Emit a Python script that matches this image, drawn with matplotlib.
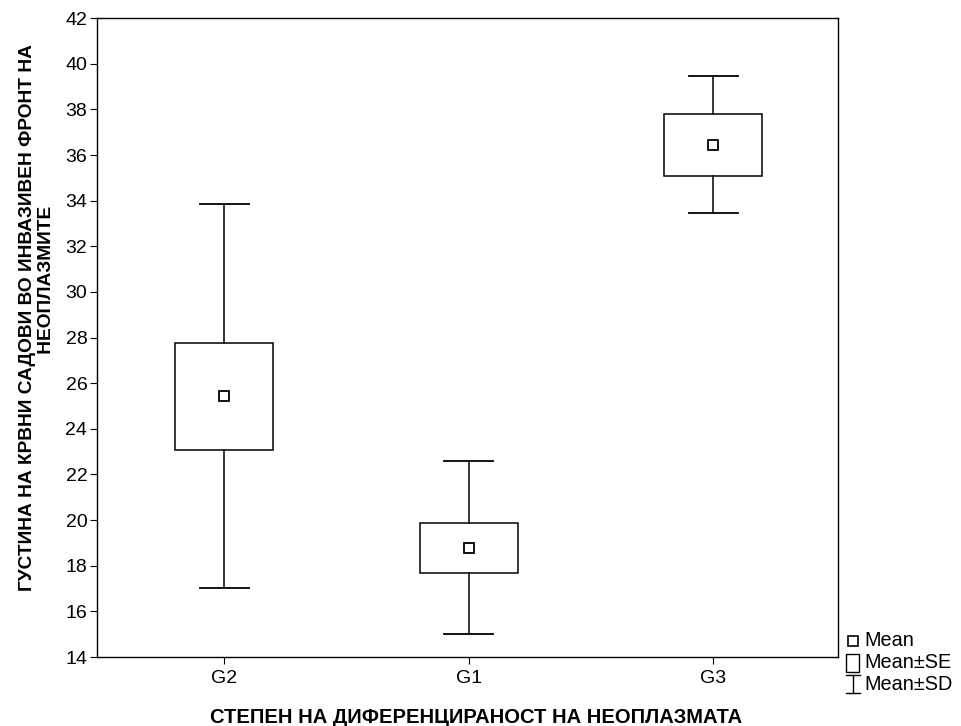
import matplotlib.pyplot as plt
import numpy as np

plt.rcParams['font.family'] = ['Liberation Sans', 'DejaVu Sans']

groups = ["G2", "G1", "G3"]
means = [25.43, 18.79, 36.45]
se = [2.34, 1.10, 1.35]
sd = [8.41, 3.78, 3.01]

fig = plt.figure(figsize=(9.61, 7.26), dpi=100)
ax = fig.add_axes([0.101, 0.095, 0.771, 0.880])

x = np.arange(len(groups))
box_w = 0.4
cap_w = 0.2
for i in range(len(groups)):
    m, s, d = means[i], se[i], sd[i]
    # whiskers (mean +- SD)
    ax.plot([x[i], x[i]], [m + s, m + d], color="black", lw=1.1)
    ax.plot([x[i], x[i]], [m - d, m - s], color="black", lw=1.1)
    ax.plot([x[i] - cap_w / 2, x[i] + cap_w / 2], [m + d, m + d], color="black", lw=1.3)
    ax.plot([x[i] - cap_w / 2, x[i] + cap_w / 2], [m - d, m - d], color="black", lw=1.3)
    # box (mean +- SE)
    ax.add_patch(plt.Rectangle((x[i] - box_w / 2, m - s), box_w, 2 * s,
                               facecolor="white", edgecolor="black", lw=1.1))
    ax.plot(x[i], m, marker="s", ms=7, mfc="white", mec="black", mew=1.3)

ax.set_xlim(-0.52, 2.51)
ax.set_ylim(14, 42)
ax.set_yticks(np.arange(14, 43, 2))
ax.set_xticks(x)
ax.set_xticklabels(groups)
ax.tick_params(direction="out", length=5, labelsize=14, color="black")
ax.tick_params(axis="x", pad=4)
ax.tick_params(axis="y", pad=2)
for sp in ax.spines.values():
    sp.set_linewidth(1.0)

ax.set_xlabel("СТЕПЕН НА ДИФЕРЕНЦИРАНОСТ НА НЕОПЛАЗМАТА",
              fontsize=14.5, fontweight="bold")
ax.xaxis.set_label_coords(0.511, -0.08)
# second line sits a bit off-centre in the original
ax.set_ylabel("ГУСТИНА НА КРВНИ САДОВИ ВО ИНВАЗИВЕН ФРОНТ НА\n" + " " * 14 + "НЕОПЛАЗМИТЕ",
              fontsize=13.8, fontweight="bold", linespacing=1.15)
ax.yaxis.set_label_coords(-0.057, 0.532)

# legend drawn in its own little axes, units are pixels
lax = fig.add_axes([840 / 961, 1 - 695 / 726, 121 / 961, 65 / 726])
lax.set_xlim(0, 121)
lax.set_ylim(65, 0)
lax.axis("off")
lax.plot(13, 11, marker="s", ms=7, mfc="white", mec="black", mew=1.2)
lax.add_patch(plt.Rectangle((6, 24), 13, 18, facecolor="white", edgecolor="black", lw=1))
lax.plot([13, 13], [45, 63], color="black", lw=1)
lax.plot([6, 20], [45, 45], color="black", lw=1)
lax.plot([6, 20], [63, 63], color="black", lw=1)
for yy, t in zip([11, 32, 54], ["Mean", "Mean±SE", "Mean±SD"]):
    lax.text(24, yy, t, fontsize=14.3, va="center", ha="left")

plt.savefig("out.png", dpi=100)
